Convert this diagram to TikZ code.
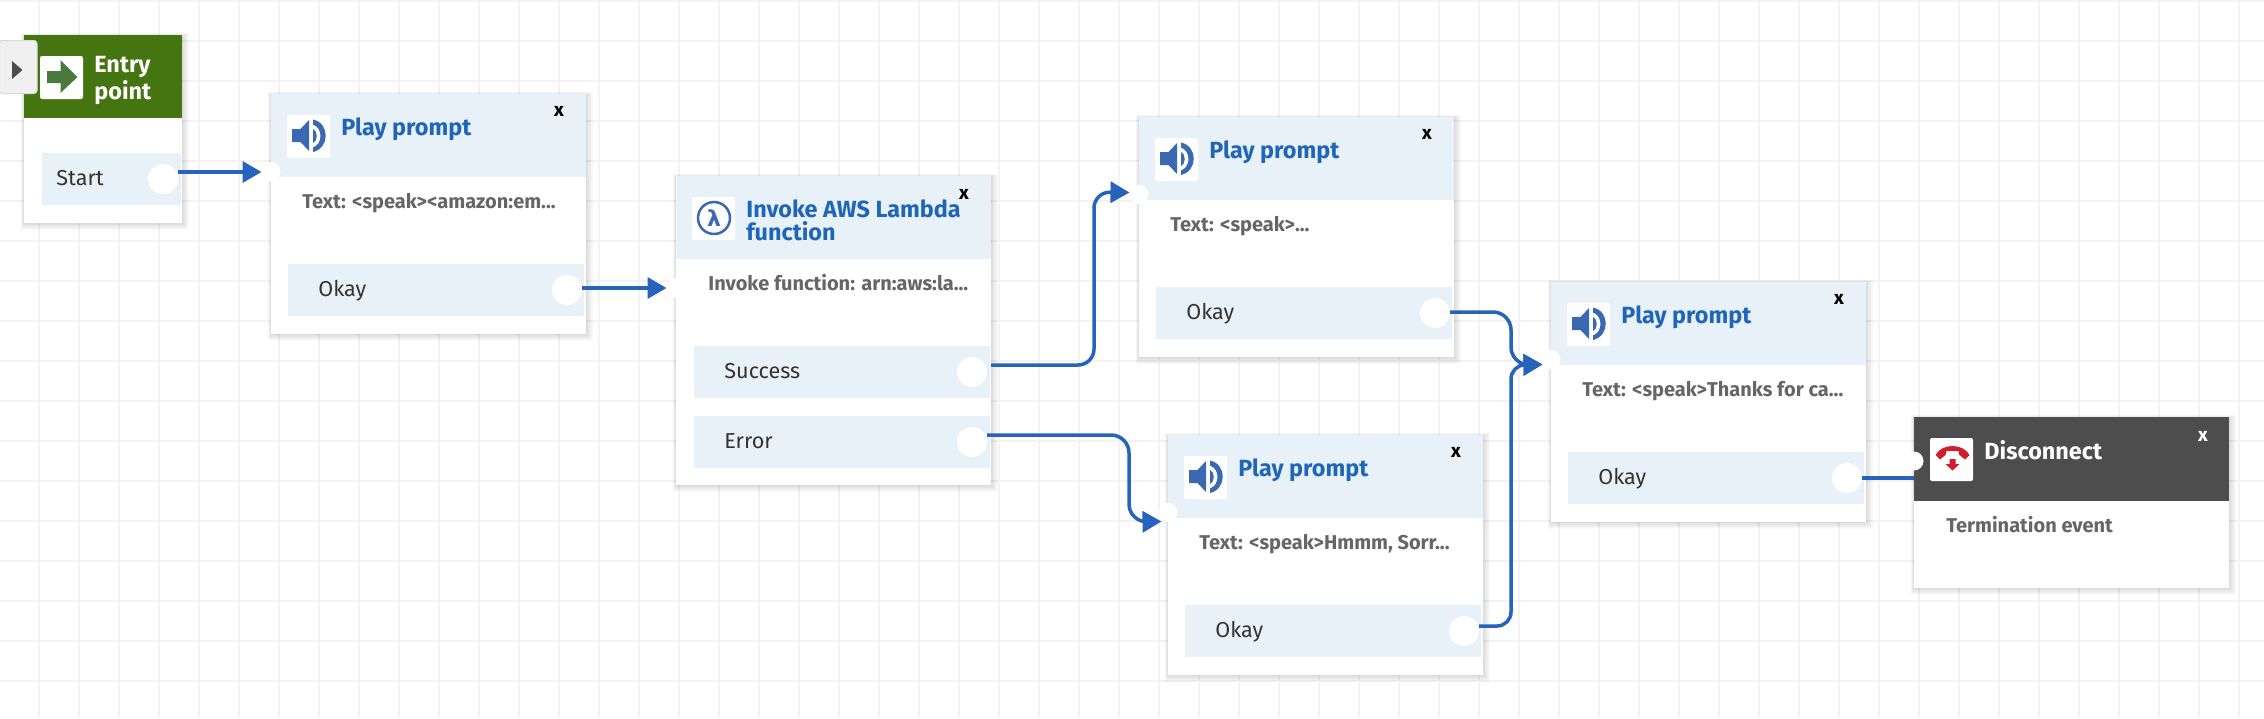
\documentclass[tikz,border=0pt]{standalone}
\usepackage{fontspec}
\setmainfont{Fira Sans}
\newfontfamily\lamfont{DejaVu Sans}
\usetikzlibrary{arrows.meta}
\definecolor{hdr}{HTML}{E8F0F8}
\definecolor{blu}{HTML}{1F66B9}
\definecolor{conn}{HTML}{2563BD}
\definecolor{spk}{HTML}{3A68B1}
\definecolor{grn}{HTML}{457511}
\definecolor{arrowg}{HTML}{4A7A3C}
\definecolor{drk}{HTML}{4D4D4D}
\definecolor{phonered}{HTML}{D01F2A}
\definecolor{bodytx}{HTML}{666666}
\definecolor{rowtx}{HTML}{333333}
\definecolor{gridc}{HTML}{F3F3F3}
\tikzset{
  x=0.5pt,y=-0.5pt,
  boxbody/.style={anchor=north west,inner sep=0pt,outer sep=0pt,fill=white,minimum width=157.5pt},
  boxhead/.style={anchor=north west,inner sep=0pt,outer sep=0pt,minimum width=157.5pt,minimum height=41.5pt},
  rowbar/.style={anchor=north west,inner sep=0pt,outer sep=0pt,fill=hdr,minimum height=26pt},
  outport/.style={circle,fill=white,inner sep=0pt,outer sep=0pt,minimum size=15pt},
  inport/.style={circle,fill=white,inner sep=0pt,outer sep=0pt,minimum size=9.5pt},
  titletx/.style={anchor=base west,inner sep=0pt,text=blu,font=\fontsize{11.7}{11.5}\selectfont\bfseries,align=left},
  whitetx/.style={titletx,text=white},
  bodylab/.style={anchor=base west,inner sep=0pt,text=bodytx,font=\fontsize{10}{11}\selectfont\bfseries},
  rowlab/.style={anchor=base west,inner sep=0pt,text=rowtx,font=\fontsize{10.8}{12}\selectfont},
  closex/.style={anchor=base,inner sep=0pt,text=black,font=\fontsize{9.5}{11}\selectfont\bfseries},
  connector/.style={draw=conn,line width=1.75pt,-{Triangle[length=9.5pt,width=10.5pt]}},
  plainconn/.style={draw=conn,line width=1.75pt},
  iconbg/.style={fill=white,rounded corners=1pt},
  gridline/.style={draw=gridc,line width=1pt}
}
\newcommand{\softshadow}[2]{%
  \foreach \s in {1,2,...,7}{\fill[black,opacity=0.018] (-\s/2,1-\s/2) rectangle (#1+\s,#2+\s);}%
}
\newcommand{\spkicon}{%
  \fill[iconbg] (0,0) rectangle (43,43);
  \fill[spk] (5,14) -- (13.5,14) -- (22,5) -- (22,36) -- (13.5,27) -- (5,27) -- cycle;
  \fill[spk] (26,14) .. controls (31,16) and (31,26) .. (26,28) -- cycle;
  \fill[spk] (26,4.5) .. controls (43,8) and (43,33) .. (26,37) -- (26,32.5) .. controls (36,29) and (36,13) .. (26,9.5) -- cycle;
}
% name, x, y, body text
\newcommand{\playblock}[4]{%
  \begin{scope}[shift={(#2,#3)}]
    \softshadow{315}{240}
    \node[boxbody,minimum height=120pt] (#1) at (0,0) {};
    \node[boxhead,fill=hdr] (#1head) at (0,0) {};
    \begin{scope}[shift={(16,21)}]\spkicon\end{scope}
    \node[titletx] (#1title) at (70,41) {Play prompt};
    \node[closex] (#1x) at (288,22) {x};
    \node[bodylab] (#1text) at (31,114) {#4};
    \node[rowbar,minimum width=148pt] (#1row) at (17,170) {};
    \node[rowlab] (#1lab) at (47,202) {Okay};
    \node[outport] (#1out) at (296,196) {};
    \node[inport] (#1in) at (0,77.5) {};
  \end{scope}%
}
\begin{document}
\begin{tikzpicture}
\useasboundingbox (0,0) rectangle (2264,718);
\fill[white] (0,0) rectangle (2264,718);
\foreach \gx in {39,79,...,2239}{\draw[gridline] (\gx,0) -- (\gx,718);}
\foreach \gy in {1,41,...,681}{\draw[gridline] (0,\gy) -- (2264,\gy);}

% Entry point
\begin{scope}[shift={(24,35)}]
  \softshadow{158}{188}
  \node[boxbody,minimum width=79pt,minimum height=94pt] (entry) at (0,0) {};
  \node[boxhead,minimum width=79pt,fill=grn] (entryhead) at (0,0) {};
  \fill[iconbg] (16,21) rectangle (59,64);
  \fill[arrowg] (23,36) -- (36.5,36) -- (36.5,25) -- (53.5,42) -- (36.5,58) -- (36.5,48) -- (23,48) -- cycle;
  \node[whitetx] (entrytitle) at (70,64) {Entry\\point};
  \node[rowbar,minimum width=69.75pt] (entryrow) at (17.5,118) {};
  \node[rowlab] (entrylab) at (32,150) {Start};
  \node[outport] (oStart) at (139,144) {};
\end{scope}

% Side toggle
\node[anchor=north west,inner sep=0pt,minimum width=18.75pt,minimum height=26.5pt,fill=gray!12,draw=gray!30,line width=.5pt,rounded corners=1.5pt] (toggle) at (-1,40) {};
\fill[drk] (12,61) -- (22.5,70) -- (12,79) -- cycle;

\playblock{pa}{271}{94}{Text: <speak><amazon:em...}
\playblock{pb}{1139}{117}{Text: <speak>...}
\playblock{pc}{1168}{435}{Text: <speak>Hmmm, Sorr...}
\playblock{pd}{1551}{282}{Text: <speak>Thanks for ca...}

% Lambda
\begin{scope}[shift={(676,176)}]
  \softshadow{315}{309}
  \node[boxbody,minimum height=154.5pt] (lam) at (0,0) {};
  \node[boxhead,fill=hdr] (lamhead) at (0,0) {};
  \fill[iconbg] (16,21) rectangle (59,64);
  \draw[spk,line width=1.25pt] (38,42) circle (16);
  \node[inner sep=0pt,text=spk,font=\fontsize{11}{11}\lamfont\bfseries] (lamsym) at (38,42) {λ};
  \node[titletx] (lamtitle) at (70,64) {Invoke AWS Lambda\\function};
  \node[closex] (lamx) at (288,23) {x};
  \node[bodylab] (lamtext) at (32,114) {Invoke function: arn:aws:la...};
  \node[rowbar,minimum width=147.75pt] (rowS) at (18,170) {};
  \node[rowbar,minimum width=147.75pt] (rowE) at (18,240) {};
  \node[rowlab] (labS) at (48,202) {Success};
  \node[rowlab] (labE) at (48,272) {Error};
  \node[outport] (oSucc) at (296,196) {};
  \node[outport] (oErr) at (296,266) {};
  \node[inport] (lamin) at (0,112) {};
\end{scope}

% Disconnect
\begin{scope}[shift={(1914,417)}]
  \softshadow{315}{171}
  \node[boxbody,minimum height=85.5pt] (disc) at (0,0) {};
  \node[boxhead,minimum height=42pt,fill=drk] (dischead) at (0,0) {};
  \begin{scope}[shift={(16,21)}]
    \fill[iconbg] (0,0) rectangle (43,43);
    \fill[phonered] (5.5,17) .. controls (12,5) and (33,5) .. (39.5,17) -- (35,21.5) -- (29,16.5) -- (29,13.5) .. controls (25,12.5) and (20,12.5) .. (16,13.5) -- (16,16.5) -- (10,21.5) -- cycle;
    \fill[phonered] (19.5,21) -- (25.5,21) -- (25.5,26) -- (29.5,26) -- (22.5,32.5) -- (15.5,26) -- (19.5,26) -- cycle;
  \end{scope}
  \node[whitetx] (disctitle) at (70,42) {Disconnect};
  \node[closex,text=white] (discx) at (289,24) {x};
  \node[bodylab] (disctext) at (32,115) {Termination event};
  \node[inport] (discin) at (0,44) {};
\end{scope}

% Connectors
\draw[connector] ([yshift=3.5pt]oStart.east) -- ([yshift=-0.25pt]pain.west);
\draw[connector] ([yshift=1pt]paout.east) -- (lamin.west);
\coordinate (bendS) at (1094,192);
\draw[connector,rounded corners=8pt] ([xshift=2pt,yshift=3.5pt]oSucc.east) -| (bendS) -- ([yshift=1pt]pbin.west);
\coordinate (bendE) at (1129,522);
\draw[connector] ([yshift=3.5pt]oErr.east) [rounded corners=9pt] -| (bendE) [rounded corners=5pt] -- ([xshift=1.5pt,yshift=-4.5pt]pcin.west);
\coordinate (merge) at (1511,365);
\draw[connector,rounded corners=9pt] ([yshift=0.5pt]pbout.east) -| (merge) [rounded corners=3pt] -- ([xshift=0.5pt,yshift=-2.5pt]pdin.west);
\draw[connector] ([yshift=2.5pt]pcout.east) [rounded corners=7pt] -| (merge) [rounded corners=3pt] -- ([xshift=0.5pt,yshift=-2.5pt]pdin.west);
\draw[plainconn] (pdout.east) -- (pdout.east -| disc.west);
\end{tikzpicture}
\end{document}
